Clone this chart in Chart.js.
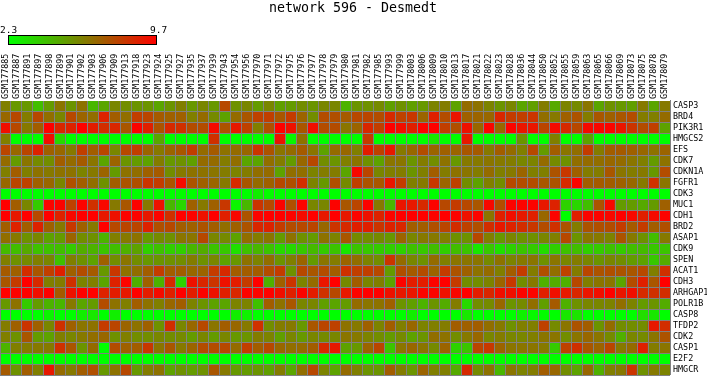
<!DOCTYPE html>
<html>
<head>
<meta charset="utf-8">
<title>network 596 - Desmedt</title>
<script src="https://cdn.jsdelivr.net/npm/chart.js@4"></script>
<style>
  html, body { margin: 0; padding: 0; background: #fff; }
  #wrap { width: 713px; height: 376px; overflow: hidden; }
</style>
</head>
<body>
<div id="wrap"><canvas id="heat" width="713" height="376"></canvas></div>
<script>
const samples = [
  "GSM177885","GSM177887","GSM177891","GSM177897","GSM177898","GSM177899","GSM177901","GSM177902","GSM177903","GSM177906",
  "GSM177909","GSM177913","GSM177918","GSM177923","GSM177924","GSM177925","GSM177927","GSM177935","GSM177937","GSM177939",
  "GSM177943","GSM177954","GSM177956","GSM177970","GSM177971","GSM177972","GSM177975","GSM177976","GSM177977","GSM177978",
  "GSM177979","GSM177980","GSM177981","GSM177982","GSM177985","GSM177993","GSM177999","GSM178003","GSM178006","GSM178009",
  "GSM178010","GSM178013","GSM178017","GSM178021","GSM178022","GSM178023","GSM178028","GSM178036","GSM178044","GSM178050",
  "GSM178052","GSM178055","GSM178059","GSM178063","GSM178065","GSM178066","GSM178069","GSM178073","GSM178075","GSM178078",
  "GSM178079",
];
const genes = [
  "CASP3","BRD4","PIK3R1","HMGCS2","EFS","CDK7","CDKN1A","FGFR1","CDK3","MUC1","CDH1","BRD2","ASAP1",
  "CDK9","SPEN","ACAT1","CDH3","ARHGAP1","POLR1B","CASP8","TFDP2","CDK2","CASP1","E2F2","HMGCR",
];
const scaleMin = 2.3;
const scaleMax = 9.7;

// * expression values, one list per gene
const CASP3 = [6.0,5.3,5.3,4.2,5.2,6.3,5.4,6.4,4.4,4.9,5.8,5.6,5.4,5.4,4.9,5.4,6.0,5.3,5.8,5.3,7.6,5.5,
  5.8,5.2,5.8,5.1,5.2,5.6,5.4,5.8,5.8,4.5,5.4,5.5,5.7,5.1,5.5,5.1,5.3,5.9,6.1,5.0,6.6,
  6.4,5.9,5.4,5.8,4.9,5.1,6.1,4.8,5.9,5.7,6.3,4.9,5.5,5.3,5.1,6.2,4.9,6.2];
const BRD4 = [6.7,7.6,6.1,7.6,6.5,5.8,7.6,6.8,6.5,8.7,7.0,6.5,7.9,7.7,7.1,6.9,6.9,6.0,6.6,5.7,5.0,6.6,
  7.2,7.8,7.9,7.2,8.0,6.8,5.6,7.5,7.4,7.1,7.6,7.7,7.5,8.5,7.8,8.1,6.8,8.8,7.5,9.1,6.9,
  6.8,6.7,8.6,8.0,7.9,8.2,6.5,6.2,6.9,7.3,6.1,7.2,6.9,7.2,7.5,6.1,6.0,6.6];
const PIK3R1 = [9.3,7.6,6.2,7.0,9.7,8.6,8.7,9.7,8.9,8.4,8.6,7.2,9.6,8.8,7.3,8.5,8.3,7.5,7.5,9.4,7.3,9.0,
  7.8,6.0,7.4,9.7,9.2,7.2,9.3,7.5,7.5,6.3,6.8,8.6,7.9,9.7,9.3,8.8,9.6,9.7,7.9,7.4,9.2,
  6.7,9.6,6.7,9.6,9.1,9.1,7.7,9.4,8.5,7.6,9.4,9.5,9.6,9.1,8.2,7.5,7.9,5.0];
const HMGCS2 = [6.0,2.3,2.3,2.3,9.3,3.4,2.3,2.3,2.3,2.3,2.3,2.3,2.3,2.3,4.9,2.3,2.3,2.3,2.3,8.3,2.3,2.3,
  2.3,2.3,2.3,9.1,2.5,6.4,2.3,2.3,2.3,2.3,2.3,8.0,2.3,2.3,2.3,2.3,2.3,3.0,2.3,2.3,9.0,
  2.3,2.3,2.3,2.3,5.4,2.3,2.3,6.0,2.3,2.3,5.0,2.3,2.3,2.3,2.3,2.3,2.3,2.3];
const EFS = [7.7,6.7,7.7,8.7,6.9,6.7,6.2,7.9,7.0,7.7,5.8,7.6,7.9,6.8,6.2,6.8,7.2,7.9,6.6,7.1,6.4,6.6,
  6.7,8.2,7.3,6.3,6.6,7.1,6.3,5.0,6.6,6.7,6.0,8.9,7.8,9.0,6.2,6.7,7.5,6.8,6.9,6.8,7.2,
  7.1,6.2,7.0,6.6,6.0,7.6,5.2,7.0,6.3,6.5,8.0,6.1,7.0,7.1,6.9,6.7,6.4,6.8];
const CDK7 = [6.6,5.2,6.3,5.7,5.6,7.0,6.6,7.1,6.3,4.9,6.8,5.4,5.2,5.0,6.1,5.3,5.5,5.1,6.6,6.6,6.1,6.5,
  4.9,4.9,6.5,6.1,5.2,6.7,7.6,5.6,5.4,6.0,6.3,5.5,5.0,6.3,6.3,5.4,6.1,5.6,6.4,5.3,6.2,
  6.2,6.3,6.2,6.1,5.8,5.9,6.6,5.7,5.5,6.5,6.6,6.5,6.7,6.6,6.3,6.0,5.2,6.4];
const CDKN1A = [6.0,7.0,6.0,6.4,6.2,6.4,6.4,5.9,6.2,6.8,5.2,6.4,6.5,6.9,7.1,5.6,6.2,6.4,6.4,6.3,6.1,5.9,
  6.1,6.5,6.6,5.0,6.5,6.5,5.9,6.1,6.1,4.9,9.5,7.7,5.8,6.0,6.1,5.4,6.0,7.0,6.1,6.4,6.3,
  6.1,6.6,6.0,6.2,6.8,6.0,6.0,7.3,8.1,6.9,6.1,6.1,7.2,6.3,6.1,6.2,5.3,7.5];
const FGFR1 = [6.7,7.7,7.8,6.9,6.7,5.8,7.4,7.0,6.5,5.5,7.0,7.3,7.4,8.2,8.0,7.3,9.4,7.3,6.9,6.8,6.2,8.5,
  7.2,6.6,6.9,7.6,7.4,8.4,5.9,5.3,7.4,5.7,7.9,7.3,7.2,9.1,8.0,6.0,6.2,8.1,6.8,7.8,5.6,
  5.0,6.0,5.6,7.6,7.5,7.5,7.2,7.3,8.5,9.6,7.0,7.1,7.0,6.9,6.7,6.2,8.3,6.3];
const CDK3 = [2.3,2.3,2.3,2.3,2.3,2.3,2.3,2.3,2.3,2.3,2.3,2.3,2.3,2.3,2.3,2.3,2.4,2.3,2.3,2.3,2.3,2.3,
  2.3,2.8,2.4,2.3,2.3,2.3,2.3,2.3,2.3,2.3,2.3,2.3,2.3,2.3,2.3,2.3,2.3,2.3,2.3,2.3,2.3,
  2.3,2.3,2.3,2.3,2.3,2.3,2.3,2.3,2.3,2.3,2.3,2.3,2.3,2.3,2.3,2.3,2.3,2.3];
const MUC1 = [9.7,7.0,5.8,3.8,9.6,9.6,7.8,9.6,8.3,9.5,6.2,7.2,9.6,6.2,9.2,4.4,3.5,6.9,6.2,6.9,8.1,2.6,
  4.4,8.2,7.6,9.6,7.4,9.6,5.8,5.8,9.6,7.2,7.7,9.6,6.2,4.4,9.1,9.0,8.5,9.6,7.6,8.0,7.6,
  7.2,9.5,7.5,9.6,9.6,9.6,9.0,8.7,3.6,3.5,4.2,7.3,9.5,5.2,5.2,4.8,5.2,6.9];
const CDH1 = [9.7,9.0,9.7,7.6,9.7,8.7,9.5,9.7,9.7,9.0,9.2,9.6,9.6,9.0,9.6,8.3,9.7,9.6,9.2,9.7,8.8,9.5,
  7.3,9.6,9.7,9.7,9.6,9.4,9.7,9.0,9.7,9.0,9.6,9.2,8.7,9.6,9.7,9.7,9.7,9.6,9.7,9.6,9.2,
  9.6,6.3,8.8,9.3,9.0,8.8,6.7,9.6,2.3,8.8,9.6,9.6,9.5,9.7,9.5,8.8,9.4,9.6];
const BRD2 = [7.0,8.7,7.0,8.7,6.9,6.2,8.1,6.9,6.2,9.7,7.6,7.7,7.7,8.7,7.4,7.6,7.0,6.9,7.3,7.0,6.5,6.9,
  7.3,8.6,8.7,8.0,7.5,7.6,7.7,6.7,8.2,8.5,8.8,8.8,8.2,8.7,8.6,7.0,7.0,7.4,7.7,8.4,7.8,
  7.4,8.4,9.0,8.7,8.4,8.1,7.5,8.3,7.3,6.1,7.3,7.4,7.5,8.0,7.1,8.0,7.0,7.4];
const ASAP1 = [6.5,6.2,5.5,5.8,5.0,5.2,6.8,5.6,5.5,4.5,6.0,6.2,6.4,5.3,5.7,5.5,6.3,6.3,7.6,5.8,5.7,5.0,
  6.5,6.1,6.3,5.2,6.4,5.5,5.2,6.4,5.9,7.2,5.7,5.6,5.7,5.3,6.8,5.8,6.2,6.2,6.0,5.5,5.5,
  7.6,6.0,5.3,5.8,5.5,5.5,5.8,6.0,7.6,5.4,6.3,6.2,5.9,7.3,6.2,5.5,4.2,6.2];
const CDK9 = [4.3,4.2,4.8,4.1,4.1,4.2,3.8,4.7,4.5,4.0,4.2,4.6,5.0,3.7,4.1,3.7,3.7,4.4,4.7,4.0,3.9,3.2,
  4.1,4.4,4.0,3.4,3.4,3.9,4.3,3.8,4.0,3.0,4.0,3.9,3.8,3.7,3.6,4.1,3.9,4.2,3.7,4.2,4.0,
  3.0,3.9,3.2,3.6,4.0,3.8,3.3,3.7,4.1,4.2,3.7,3.8,4.1,3.8,4.2,4.3,3.9,4.0];
const SPEN = [6.0,5.5,5.7,6.0,5.8,4.1,6.0,5.5,5.0,6.9,5.6,6.3,5.6,5.3,5.4,5.5,5.6,6.1,5.5,5.8,5.0,5.3,
  6.4,5.9,6.5,5.4,6.0,6.8,5.2,6.3,6.1,6.8,6.5,5.9,5.6,8.2,6.6,5.8,5.5,6.6,6.0,6.3,6.3,
  6.3,5.7,6.4,5.9,6.2,6.3,5.5,6.3,5.8,6.1,5.8,5.4,5.8,5.6,5.2,5.0,3.9,4.7];
const ACAT1 = [7.1,6.9,8.4,7.2,7.9,8.8,6.9,7.5,7.1,5.3,8.1,6.4,6.5,7.0,8.0,7.0,7.0,6.7,6.8,8.0,8.5,7.0,
  7.0,7.0,7.5,8.0,5.5,7.6,7.2,7.5,7.0,8.3,7.9,7.9,7.6,5.2,7.4,7.1,7.5,6.8,8.0,7.3,6.9,
  6.4,6.6,6.0,7.0,8.0,6.1,7.4,6.5,7.8,6.1,7.7,7.3,7.4,7.3,7.2,7.6,6.0,8.3];
const CDH3 = [7.2,8.0,9.7,8.5,6.0,6.1,8.3,5.9,6.0,4.9,8.7,9.6,4.6,6.9,4.5,8.5,3.6,9.2,8.6,8.2,9.2,8.9,
  8.0,9.7,4.6,6.9,8.2,5.9,6.6,9.1,9.7,5.7,7.0,5.8,6.0,5.0,9.6,8.9,8.9,9.6,9.7,8.0,5.6,
  5.6,5.9,6.8,8.1,5.6,6.2,4.6,4.7,4.6,7.6,6.0,6.3,6.3,4.9,7.5,8.8,7.2,9.7];
const ARHGAP1 = [9.7,9.6,9.7,9.3,9.7,7.1,9.2,9.7,9.7,8.7,8.9,9.0,9.7,8.9,9.4,8.8,9.7,8.9,9.6,9.2,8.8,8.6,
  9.6,9.6,9.7,9.3,8.8,9.6,8.9,8.3,7.6,9.0,9.6,9.7,9.7,9.2,9.0,9.1,9.6,9.6,9.2,9.5,9.7,
  8.9,8.6,9.3,9.3,9.6,9.6,8.8,9.3,9.0,8.6,9.1,9.3,9.7,9.1,9.3,8.5,8.3,8.4];
const POLR1B = [5.3,6.4,3.8,5.2,4.5,4.4,6.2,4.9,5.2,7.5,6.4,6.0,7.0,6.4,6.0,6.7,7.0,5.9,5.4,5.0,4.9,5.9,
  5.9,4.1,7.0,6.4,7.2,5.8,5.8,5.1,4.9,5.2,6.6,6.3,6.4,6.9,5.4,5.1,4.5,5.4,4.7,6.1,3.4,
  5.6,5.7,6.7,5.4,5.7,6.5,5.1,7.1,4.6,5.5,5.8,5.8,5.9,6.5,5.9,5.2,5.4,4.7];
const CASP8 = [2.3,2.3,2.3,2.3,2.6,2.3,2.3,2.8,3.0,2.3,2.8,2.3,2.3,2.3,2.3,2.3,2.3,2.3,2.3,2.3,2.3,2.8,
  2.7,2.3,2.3,2.3,2.3,2.3,2.3,2.3,2.3,2.3,2.3,2.3,2.3,2.3,2.3,2.8,2.3,2.3,2.3,2.3,3.0,
  2.3,2.3,2.3,2.3,2.7,2.5,2.4,2.3,3.0,3.1,2.3,2.3,2.3,2.3,2.3,3.3,3.0,2.3];
const TFDP2 = [6.1,6.9,8.2,6.9,5.8,8.3,6.9,6.3,6.4,8.0,7.7,6.8,6.4,6.9,5.5,8.4,5.8,6.7,7.6,6.3,7.0,6.7,
  6.2,8.3,5.6,6.1,6.2,5.3,7.2,7.7,7.8,6.4,6.2,6.9,5.9,7.0,6.0,6.7,5.9,6.0,6.1,7.0,6.9,
  7.0,6.5,6.2,5.5,6.0,6.0,7.8,5.7,6.3,7.3,7.0,5.4,6.6,5.6,5.6,5.6,9.0,8.4];
const CDK2 = [6.0,5.5,7.2,5.2,5.0,6.0,5.8,6.2,6.5,6.7,5.5,6.0,5.6,5.6,5.8,5.6,5.7,5.2,5.8,5.2,5.8,5.3,
  5.4,6.1,5.9,5.1,5.8,5.3,5.8,5.7,5.8,6.3,6.2,5.9,5.6,5.2,5.7,5.0,5.4,6.5,6.4,5.6,6.2,
  6.7,5.8,6.1,5.8,5.8,6.0,6.3,6.3,5.6,6.3,6.7,6.3,5.7,4.6,5.8,5.7,6.3,7.3];
const CASP1 = [4.5,6.0,6.1,6.2,6.2,8.3,7.2,5.4,6.6,2.3,7.5,6.9,7.0,8.1,6.3,7.2,6.2,6.8,7.5,7.5,7.6,6.6,
  7.9,7.0,7.6,6.7,6.5,6.6,7.0,8.5,9.0,5.0,5.3,6.8,7.7,4.0,6.3,6.7,6.3,5.7,6.8,3.6,4.0,
  7.7,8.1,6.8,6.3,6.3,6.3,6.2,3.8,7.8,8.3,7.2,6.8,7.7,6.2,6.6,8.8,6.1,6.3];
const E2F2 = [2.3,2.3,2.3,2.3,2.3,2.3,2.3,2.3,2.3,2.3,2.3,2.3,2.3,2.3,2.3,2.3,2.3,2.3,2.3,2.3,2.3,2.3,
  2.3,2.3,2.3,2.3,2.3,2.3,2.3,2.3,2.3,2.3,2.3,2.3,2.3,2.3,2.3,2.3,2.3,2.3,2.3,2.3,2.3,
  2.3,2.3,2.3,2.3,2.3,2.3,2.3,2.3,2.3,2.3,2.3,2.3,2.3,2.3,2.3,2.3,2.3,2.3];
const HMGCR = [7.1,5.5,7.0,6.0,9.0,6.6,6.2,7.0,7.4,5.3,6.4,7.6,5.3,6.1,6.4,5.0,5.5,5.2,5.5,7.2,6.2,5.3,
  5.2,5.4,5.1,6.1,4.9,6.5,7.6,5.9,5.0,6.6,6.0,5.4,5.4,7.0,6.1,5.4,6.8,6.0,6.0,4.8,8.5,
  5.7,6.4,4.4,6.3,5.9,6.1,7.0,6.7,5.6,5.0,6.7,4.6,6.0,6.2,8.2,5.5,6.2,5.9];

const rows = [CASP3,BRD4,PIK3R1,HMGCS2,EFS,CDK7,CDKN1A,FGFR1,CDK3,MUC1,CDH1,BRD2,ASAP1,
  CDK9,SPEN,ACAT1,CDH3,ARHGAP1,POLR1B,CASP8,TFDP2,CDK2,CASP1,E2F2,HMGCR];

const monoFont = "'DejaVu Sans Mono', monospace";
const gridColor = "#808080";

// green (low) -> red (high), same ramp as the bar on top
function heatColor(v) {
  const t = (v - scaleMin) / (scaleMax - scaleMin);
  return "rgb(" + Math.round(255 * t) + "," + Math.round(255 * (1 - t)) + ",0)";
}

// labels may hang over the edge, keep the grid on its exact 11px pitch
function noPadding(scale) {
  scale.paddingLeft = 0;
  scale.paddingRight = 0;
  scale.paddingTop = 0;
  scale.paddingBottom = 0;
}

// each gene is one dataset of floating bars covering its own row of the y scale
const heatData = {
  labels: samples,
  datasets: rows.map((values, r) => ({
    label: genes[r],
    data: values.map(() => [r, r + 1]),
    backgroundColor: values.map(heatColor),
    borderWidth: 0,
    barPercentage: 1,
    categoryPercentage: 1,
    grouped: false,
  })),
};

// colour key above the grid
const colorKey = {
  id: "colorKey",
  afterDraw(chart) {
    const ctx = chart.ctx;
    const grad = ctx.createLinearGradient(9, 0, 157, 0);
    grad.addColorStop(0, heatColor(scaleMin));
    grad.addColorStop(0.5, heatColor((scaleMin + scaleMax) / 2));
    grad.addColorStop(1, heatColor(scaleMax));
    ctx.save();
    ctx.fillStyle = grad;
    ctx.fillRect(9, 36, 148, 8);
    ctx.strokeStyle = "#000";
    ctx.lineWidth = 1;
    ctx.strokeRect(8.5, 35.5, 148, 9);
    ctx.fillStyle = "#000";
    ctx.font = "9.5px " + monoFont;
    ctx.textBaseline = "alphabetic";
    ctx.fillText(String(scaleMin), 0, 33);
    ctx.fillText(String(scaleMax), 150, 33);
    ctx.restore();
  },
};

const heatChart = new Chart(document.getElementById("heat"), {
  type: "bar",
  data: heatData,
  plugins: [colorKey],
  options: {
    responsive: false,
    animation: false,
    layout: { autoPadding: false, padding: { left: -1, right: 6, top: 0, bottom: 1 } },
    plugins: {
      legend: { display: false },
      tooltip: { enabled: false },
      title: {
        display: true,
        text: "network 596 - Desmedt",
        color: "#000",
        font: { family: monoFont, size: 13.3, weight: "normal" },
        padding: { top: 1, bottom: 0 },
      },
    },
    scales: {
      x: {
        position: "top",
        offset: true,
        afterFit(scale) {
          noPadding(scale);
          scale.height = 100 - scale.chart.titleBlock.height;
        },
        border: { display: false },
        grid: { color: gridColor, z: 1, drawTicks: false, offset: true },
        ticks: {
          autoSkip: false,
          minRotation: 90,
          maxRotation: 90,
          padding: 1,
          labelOffset: 10,
          color: "#000",
          font: { family: monoFont, size: 8.4 },
        },
      },
      y: {
        min: 0,
        max: 25,
        reverse: true,
        afterFit(scale) {
          noPadding(scale);
          scale.width = 0;
        },
        border: { display: false },
        grid: {
          // the top line is not in the picture
          color: (c) => (c.tick && c.tick.value === 0 ? "#fff" : gridColor),
          z: 1,
          drawTicks: false,
        },
        ticks: { display: false, stepSize: 1 },
      },
      genes: {
        type: "category",
        labels: genes,
        position: "right",
        offset: true,
        afterFit(scale) {
          noPadding(scale);
          scale.width = 37;
        },
        border: { display: false },
        grid: { display: false, drawTicks: false },
        ticks: {
          autoSkip: false,
          padding: 3,
          color: "#000",
          font: { family: monoFont, size: 8.4 },
        },
      },
    },
  },
});
</script>
</body>
</html>
